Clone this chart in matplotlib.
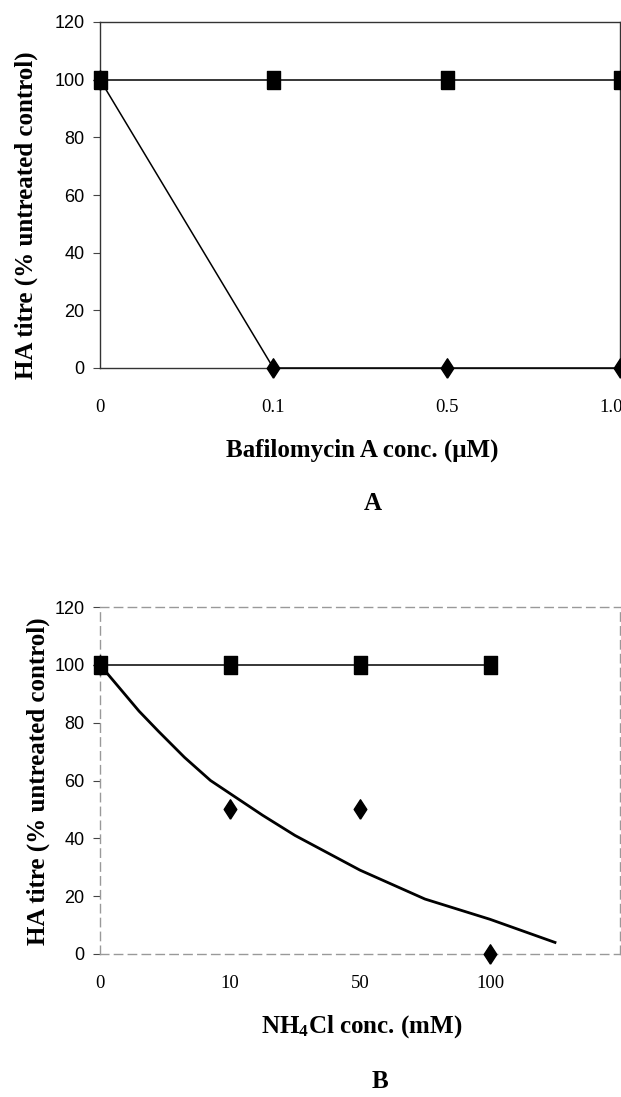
import matplotlib
matplotlib.use("Agg")
import matplotlib.pyplot as plt
import matplotlib.transforms as mtransforms
from matplotlib import font_manager

# panel A: bafilomycin A
a_labels = ["0", "0.1", "0.5", "1.0"]
a_control = [100, 100, 100, 100]
a_bafilo = [100, 0, 0, 0]

# panel B: NH4Cl
b_labels = ["0", "10", "50", "100"]
b_control = [100, 100, 100, 100]
b_nh4cl = [100, 50, 50, 0]
# trend curve (x in category units)
b_trend_x = [0, 0.15, 0.3, 0.45, 0.65, 0.85, 1.05, 1.25, 1.5, 1.75, 2.0, 2.25, 2.5, 2.75, 3.0, 3.25, 3.5]
b_trend_y = [100, 92, 84, 77, 68, 60, 54, 48, 41, 35, 29, 24, 19, 15.5, 12, 8, 4]

plt.rcParams["mathtext.fontset"] = "custom"
plt.rcParams["mathtext.bf"] = "Liberation Serif:bold"
plt.rcParams["mathtext.rm"] = "Liberation Serif:bold"
plt.rcParams["mathtext.it"] = "Liberation Serif:bold"

W, H = 621, 1097
names = {f.name for f in font_manager.fontManager.ttflist}
narrow = "Liberation Sans Narrow" if "Liberation Sans Narrow" in names else "Liberation Sans"
serif = "Liberation Serif"

square = [(-0.72, -1), (0.72, -1), (0.72, 1), (-0.72, 1), (-0.72, -1)]
diamond = [(0, -1), (0.65, 0), (0, 1), (-0.65, 0), (0, -1)]

fig = plt.figure(figsize=(W / 100, H / 100), dpi=100)


def px(x, y):
    return x / W, 1 - y / H


def setup(ax, labels, pad, dashed):
    ax.set_xlim(0, 3 if not dashed else 4)
    ax.set_ylim(0, 120)
    ax.set_yticks(range(0, 121, 20))
    ax.set_xticks(range(len(labels)))
    ax.set_xticklabels(labels, fontfamily=serif, fontsize=13.5)
    for t in ax.get_yticklabels():
        t.set_fontfamily(narrow)
        t.set_fontsize(13)
    ax.tick_params(axis="x", length=0, pad=pad)
    ax.tick_params(axis="y", length=5, width=0.8, pad=6, color="#444444")
    for s in ax.spines.values():
        s.set_linewidth(1.0)
        s.set_color("#333333")
        if dashed:
            s.set_color("#999999")
            s.set_linestyle((0, (6, 4)))


# ---- panel A ----
axA = fig.add_axes([100 / W, 1 - 368 / H, 520 / W, 346 / H])
setup(axA, a_labels, 22, False)
# last label sits at the right edge, nudge it in a little
last = axA.get_xticklabels()[-1]
last.set_transform(last.get_transform() + mtransforms.ScaledTranslation(-9 / 100, 0, fig.dpi_scale_trans))
xa = list(range(len(a_labels)))
axA.plot(xa, a_bafilo, color="black", lw=1.1, marker=diamond, markersize=14,
         clip_on=False, zorder=3)
axA.plot(xa, a_control, color="black", lw=1.1, marker=square, markersize=13,
         clip_on=False, zorder=4)

# ---- panel B ----
axB = fig.add_axes([100 / W, 1 - 954 / H, 520 / W, 347 / H])
setup(axB, b_labels, 15, True)
xb = list(range(len(b_labels)))
axB.plot(b_trend_x, b_trend_y, color="black", lw=2.0, zorder=2)
axB.plot(xb, b_nh4cl, ls="none", color="black", marker=diamond, markersize=14,
         clip_on=False, zorder=3)
axB.plot(xb, b_control, color="black", lw=1.1, marker=square, markersize=13,
         clip_on=False, zorder=4)

# labels
ylab = "HA titre (% untreated control)"
fig.text(*px(26, 215), ylab, rotation=90, ha="center", va="center",
         fontfamily=serif, fontweight="bold", fontsize=18)
fig.text(*px(38, 781), ylab, rotation=90, ha="center", va="center",
         fontfamily=serif, fontweight="bold", fontsize=18)
fig.text(*px(362, 450), "Bafilomycin A conc. (\u03bcM)", ha="center", va="center",
         fontfamily=serif, fontweight="bold", fontsize=18)
fig.text(*px(373, 503), "A", ha="center", va="center",
         fontfamily=serif, fontweight="bold", fontsize=18)
fig.text(*px(362, 1027), r"NH$_{\mathbf{4}}$Cl conc. (mM)", ha="center", va="center",
         fontfamily=serif, fontweight="bold", fontsize=18)
fig.text(*px(380, 1082), "B", ha="center", va="center",
         fontfamily=serif, fontweight="bold", fontsize=18)

fig.savefig("out.png", dpi=100)
